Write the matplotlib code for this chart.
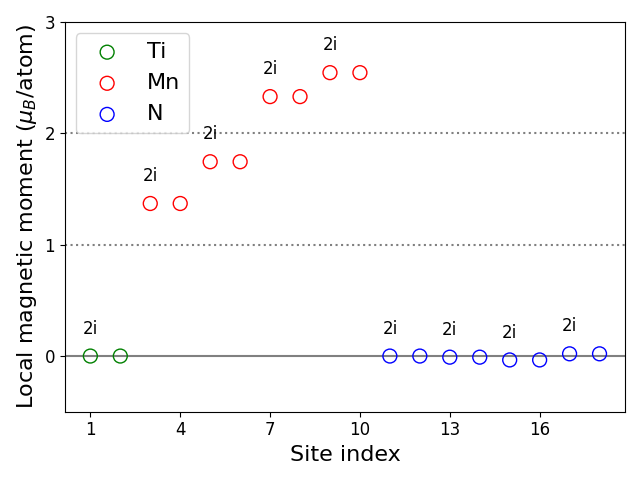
import matplotlib
matplotlib.use("Agg")
import matplotlib.pyplot as plt
import numpy as np

ti_sites = [1, 2]
ti_moment = [0.0, 0.0]
mn_sites = [3, 4, 5, 6, 7, 8, 9, 10]
mn_moment = [1.37, 1.37, 1.745, 1.745, 2.33, 2.33, 2.545, 2.545]
n_sites = [11, 12, 13, 14, 15, 16, 17, 18]
n_moment = [0.0, 0.0, -0.01, -0.01, -0.035, -0.035, 0.02, 0.02]
wyckoff_sites = [1, 3, 5, 7, 9, 11, 13, 15, 17]
wyckoff_labels = ['2i'] * 9

fig, ax = plt.subplots(figsize=(6.4, 4.8), dpi=100)
ax.axhline(0, color='gray', lw=1.5)
ax.axhline(1, color='gray', ls=':', lw=1.5)
ax.axhline(2, color='gray', ls=':', lw=1.5)

ax.scatter(ti_sites, ti_moment, s=100, facecolors='none', edgecolors='green', label='Ti', zorder=3)
ax.scatter(mn_sites, mn_moment, s=100, facecolors='none', edgecolors='red', label='Mn', zorder=3)
ax.scatter(n_sites, n_moment, s=100, facecolors='none', edgecolors='blue', label='N', zorder=3)

all_sites = ti_sites + mn_sites + n_sites
all_moment = ti_moment + mn_moment + n_moment
for s, lab in zip(wyckoff_sites, wyckoff_labels):
    y = all_moment[all_sites.index(s)]
    ax.text(s, y + 0.165, lab, ha='center', va='bottom', fontsize=12)

ax.set_ylim(-0.5, 3)
ax.set_xticks([1, 4, 7, 10, 13, 16])
ax.set_yticks([0, 1, 2, 3])
ax.tick_params(labelsize=12)
ax.set_xlabel('Site index', fontsize=16)
ax.set_ylabel(r'Local magnetic moment ($\mu_B$/atom)', fontsize=16)
ax.legend(fontsize=16, loc='upper left')
fig.tight_layout()
fig.savefig('out.png')
